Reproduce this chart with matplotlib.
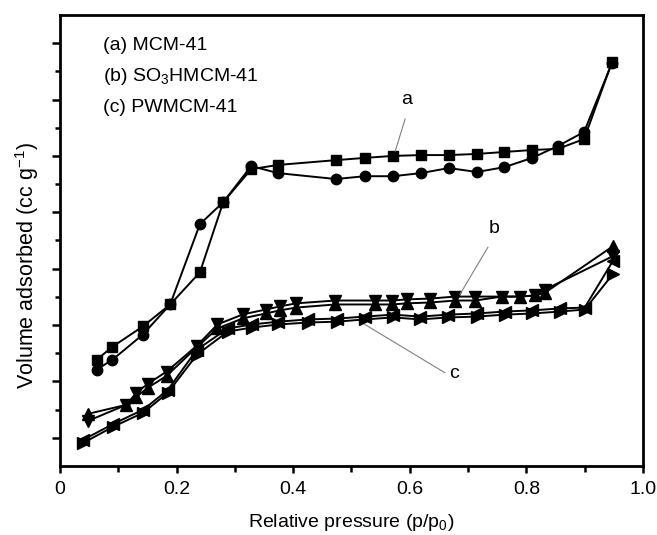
import numpy as np
import matplotlib
matplotlib.use('Agg')
import matplotlib.pyplot as plt
from matplotlib.ticker import MultipleLocator, NullFormatter

plt.rcParams['font.family'] = ['Liberation Sans', 'DejaVu Sans']
plt.rcParams['mathtext.fontset'] = 'custom'
plt.rcParams['mathtext.rm'] = 'Liberation Sans'
plt.rcParams['mathtext.it'] = 'Liberation Sans:italic'

# (a) MCM-41
a_p_ads = [0.063, 0.090, 0.142, 0.189, 0.240, 0.280, 0.328, 0.374, 0.473, 0.523,
           0.571, 0.619, 0.667, 0.715, 0.762, 0.810, 0.854, 0.899, 0.947]
a_v_ads = [3.77, 4.23, 4.95, 5.73, 6.87, 9.36, 10.53, 10.68, 10.85, 10.93,
           11.00, 11.03, 11.03, 11.07, 11.14, 11.21, 11.25, 11.60, 14.34]
a_p_des = a_p_ads
a_v_des = [3.42, 3.77, 4.66, 5.73, 8.58, 9.36, 10.64, 10.39, 10.18, 10.28,
           10.28, 10.39, 10.57, 10.43, 10.60, 10.93, 11.35, 11.85, 14.31]

# (b) SO3HMCM-41
b_p = [0.048, 0.114, 0.131, 0.151, 0.183, 0.235, 0.270, 0.314, 0.353, 0.377,
       0.405, 0.472, 0.540, 0.569, 0.595, 0.635, 0.678, 0.712, 0.758, 0.789,
       0.815, 0.832, 0.948]
b_v_ads = [1.85, 2.17, 2.45, 2.78, 3.20, 4.22, 4.88, 5.24, 5.41, 5.52,
           5.62, 5.73, 5.73, 5.73, 5.77, 5.80, 5.87, 5.87, 6.01, 6.01,
           6.05, 6.15, 7.79]
b_v_des = [1.60, 2.17, 2.60, 2.92, 3.35, 4.27, 5.02, 5.38, 5.55, 5.66,
           5.77, 5.87, 5.87, 5.87, 5.91, 5.94, 6.01, 6.01, 6.01, 6.01,
           6.05, 6.26, 7.44]

# (c) PWMCM-41
c_p = [0.040, 0.091, 0.143, 0.185, 0.235, 0.288, 0.329, 0.374, 0.426, 0.475,
       0.523, 0.571, 0.618, 0.666, 0.715, 0.763, 0.810, 0.858, 0.900, 0.948]
c_v_ads = [0.82, 1.39, 1.89, 2.60, 3.95, 4.77, 4.91, 5.02, 5.09, 5.12,
           5.20, 5.27, 5.20, 5.27, 5.30, 5.37, 5.41, 5.48, 5.55, 6.80]
c_v_des = [0.93, 1.49, 2.00, 2.70, 4.13, 4.88, 5.02, 5.12, 5.20, 5.23,
           5.30, 5.37, 5.30, 5.37, 5.41, 5.48, 5.52, 5.59, 5.62, 7.26]

legend_lines = ['(a) MCM-41', '(b) SO$_3$HMCM-41', '(c) PWMCM-41']

fig = plt.figure(figsize=(6.57, 5.35), dpi=100)
ax = fig.add_axes([0.0913, 0.129, 0.8874, 0.843])

kw = dict(color='black', lw=1.4, ms=8)
ax.plot(a_p_ads, a_v_ads, marker='s', ms=6.5, color='black', lw=1.4)
ax.plot(a_p_des, a_v_des, marker='o', ms=7.5, color='black', lw=1.4)
ax.plot(b_p, b_v_ads, marker='^', **kw)
ax.plot(b_p, b_v_des, marker='v', **kw)
ax.plot(c_p, c_v_ads, marker='>', **kw)
ax.plot(c_p, c_v_des, marker='<', **kw)

ax.set_xlim(0, 1.0)
ax.set_ylim(0, 16)
ax.xaxis.set_minor_locator(MultipleLocator(0.1))
ax.set_xticks([0, 0.2, 0.4, 0.6, 0.8, 1.0])
ax.set_xticklabels(['0', '0.2', '0.4', '0.6', '0.8', '1.0'])
ax.set_yticks(np.arange(1, 16, 2))
ax.set_yticks(np.arange(2, 16, 2), minor=True)
ax.yaxis.set_major_formatter(NullFormatter())
ax.tick_params(axis='both', which='both', direction='out', width=1.8)
ax.tick_params(axis='x', which='major', length=5, labelsize=14, pad=6)
ax.tick_params(axis='x', which='minor', length=4)
ax.tick_params(axis='y', which='major', length=6)
ax.tick_params(axis='y', which='minor', length=3.5)
for s in ax.spines.values():
    s.set_linewidth(2)

ax.set_xlabel('Relative pressure (p/p$_0$)', fontsize=14, labelpad=10)
ax.set_ylabel('Volume adsorbed (cc g$^{-1}$)', fontsize=15.5)
ax.yaxis.set_label_coords(-0.033, 0.445)

for i, t in enumerate(legend_lines):
    ax.text(0.074, 14.9 - i * 1.1, t, fontsize=14, va='center', ha='left')

# curve labels with leader lines
ax.plot([0.592, 0.575], [12.31, 11.17], color='gray', lw=0.8)
ax.text(0.595, 13.0, 'a', fontsize=14, ha='center', va='center')
ax.plot([0.734, 0.686], [7.76, 6.09], color='gray', lw=0.8)
ax.text(0.744, 8.43, 'b', fontsize=14, ha='center', va='center')
ax.plot([0.660, 0.523], [3.31, 5.02], color='gray', lw=0.8)
ax.text(0.676, 3.27, 'c', fontsize=14, ha='center', va='center')

fig.savefig('out.png', dpi=100)
